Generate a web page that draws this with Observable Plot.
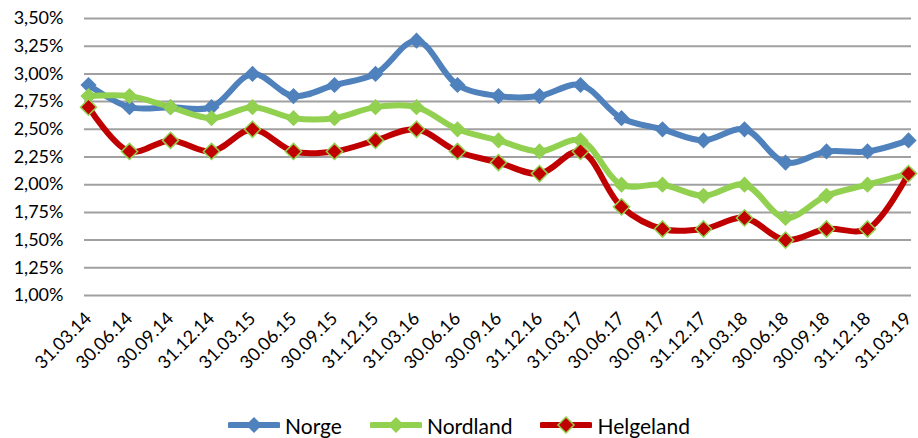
<!DOCTYPE html>
<html>
<head>
<meta charset="utf-8">
<script src="https://cdn.jsdelivr.net/npm/d3@7"></script>
<script src="https://cdn.jsdelivr.net/npm/@observablehq/plot@0.6"></script>
<style>
  body { margin: 0; background: #fff; font-family: Lato, "Open Sans", sans-serif; overflow: hidden; }
  #legend { display: flex; justify-content: center; align-items: center; height: 30px; margin-top: 10px; font-size: 21px; color: #000; }
  .item { display: flex; align-items: center; margin: 0 14px; }
  .item svg { margin-right: 5px; }
</style>
</head>
<body>
<div id="chart"></div>
<div id="legend"></div>
<script>
const dates = ["31.03.14","30.06.14","30.09.14","31.12.14","31.03.15","30.06.15","30.09.15","31.12.15","31.03.16","30.06.16","30.09.16","31.12.16","31.03.17","30.06.17","30.09.17","31.12.17","31.03.18","30.06.18","30.09.18","31.12.18","31.03.19"];
const norge =      [2.9, 2.7, 2.7, 2.7, 3.0, 2.8, 2.9, 3.0, 3.3, 2.9, 2.8, 2.8, 2.9, 2.6, 2.5, 2.4, 2.5, 2.2, 2.3, 2.3, 2.4];
const nordland =   [2.8, 2.8, 2.7, 2.6, 2.7, 2.6, 2.6, 2.7, 2.7, 2.5, 2.4, 2.3, 2.4, 2.0, 2.0, 1.9, 2.0, 1.7, 1.9, 2.0, 2.1];
const helgeland =  [2.7, 2.3, 2.4, 2.3, 2.5, 2.3, 2.3, 2.4, 2.5, 2.3, 2.2, 2.1, 2.3, 1.8, 1.6, 1.6, 1.7, 1.5, 1.6, 1.6, 2.1];
const yTicks = [1.00, 1.25, 1.50, 1.75, 2.00, 2.25, 2.50, 2.75, 3.00, 3.25, 3.50];
const seriesNames = ["Norge", "Nordland", "Helgeland"];
const colors = {Norge: "#4F81BD", Nordland: "#92D050", Helgeland: "#C00000"};

const seriesValues = {Norge: norge, Nordland: nordland, Helgeland: helgeland};
const rows = seriesNames.flatMap(s => dates.map((d, i) => ({series: s, date: d, value: seriesValues[s][i]})));
const fmt = v => v.toFixed(2).replace(".", ",") + "%";

const plot = Plot.plot({
  width: 918,
  height: 400,
  marginLeft: 84,
  marginRight: 7,
  marginTop: 18,
  marginBottom: 105,
  style: {fontFamily: "Lato, 'Open Sans', sans-serif", fontSize: "17px", color: "#000", background: "#fff"},
  x: {type: "point", domain: dates, padding: 0, axis: null},
  y: {domain: [1, 3.5], ticks: yTicks, axis: null},
  marks: [
    Plot.gridY(yTicks, {stroke: "#a0a0a0", strokeOpacity: 1, strokeWidth: 2}),
    Plot.axisY(yTicks, {tickSize: 0, tickPadding: 21, tickFormat: fmt, fontSize: 18, fill: "#000", label: null}),
    Plot.text(dates, {x: d => d, frameAnchor: "bottom", dy: 20, dx: 0, rotate: -45, textAnchor: "end", lineAnchor: "middle", fontSize: 18, fill: "#000"}),
    ...seriesNames.map(s => Plot.line(rows.filter(r => r.series === s), {x: "date", y: "value", stroke: colors[s], strokeWidth: 6, curve: "catmull-rom"})),
    ...seriesNames.map(s => Plot.dot(rows.filter(r => r.series === s), {
      x: "date", y: "value", symbol: "diamond2", r: 7.3,
      fill: colors[s],
      stroke: s === "Helgeland" ? "#92D050" : "none",
      strokeWidth: 1.5
    }))
  ]
});
document.getElementById("chart").appendChild(plot);

const legend = document.getElementById("legend");
for (const s of seriesNames) {
  const item = document.createElement("div");
  item.className = "item";
  const stroke = s === "Helgeland" ? "#92D050" : "none";
  item.innerHTML = `<svg width="52" height="20"><line x1="2" y1="10" x2="50" y2="10" stroke="${colors[s]}" stroke-width="6" stroke-linecap="round"/><path d="M26,2 L34,10 L26,18 L18,10 Z" fill="${colors[s]}" stroke="${stroke}" stroke-width="1.5"/></svg><span>${s}</span>`;
  legend.appendChild(item);
}
</script>
</body>
</html>
